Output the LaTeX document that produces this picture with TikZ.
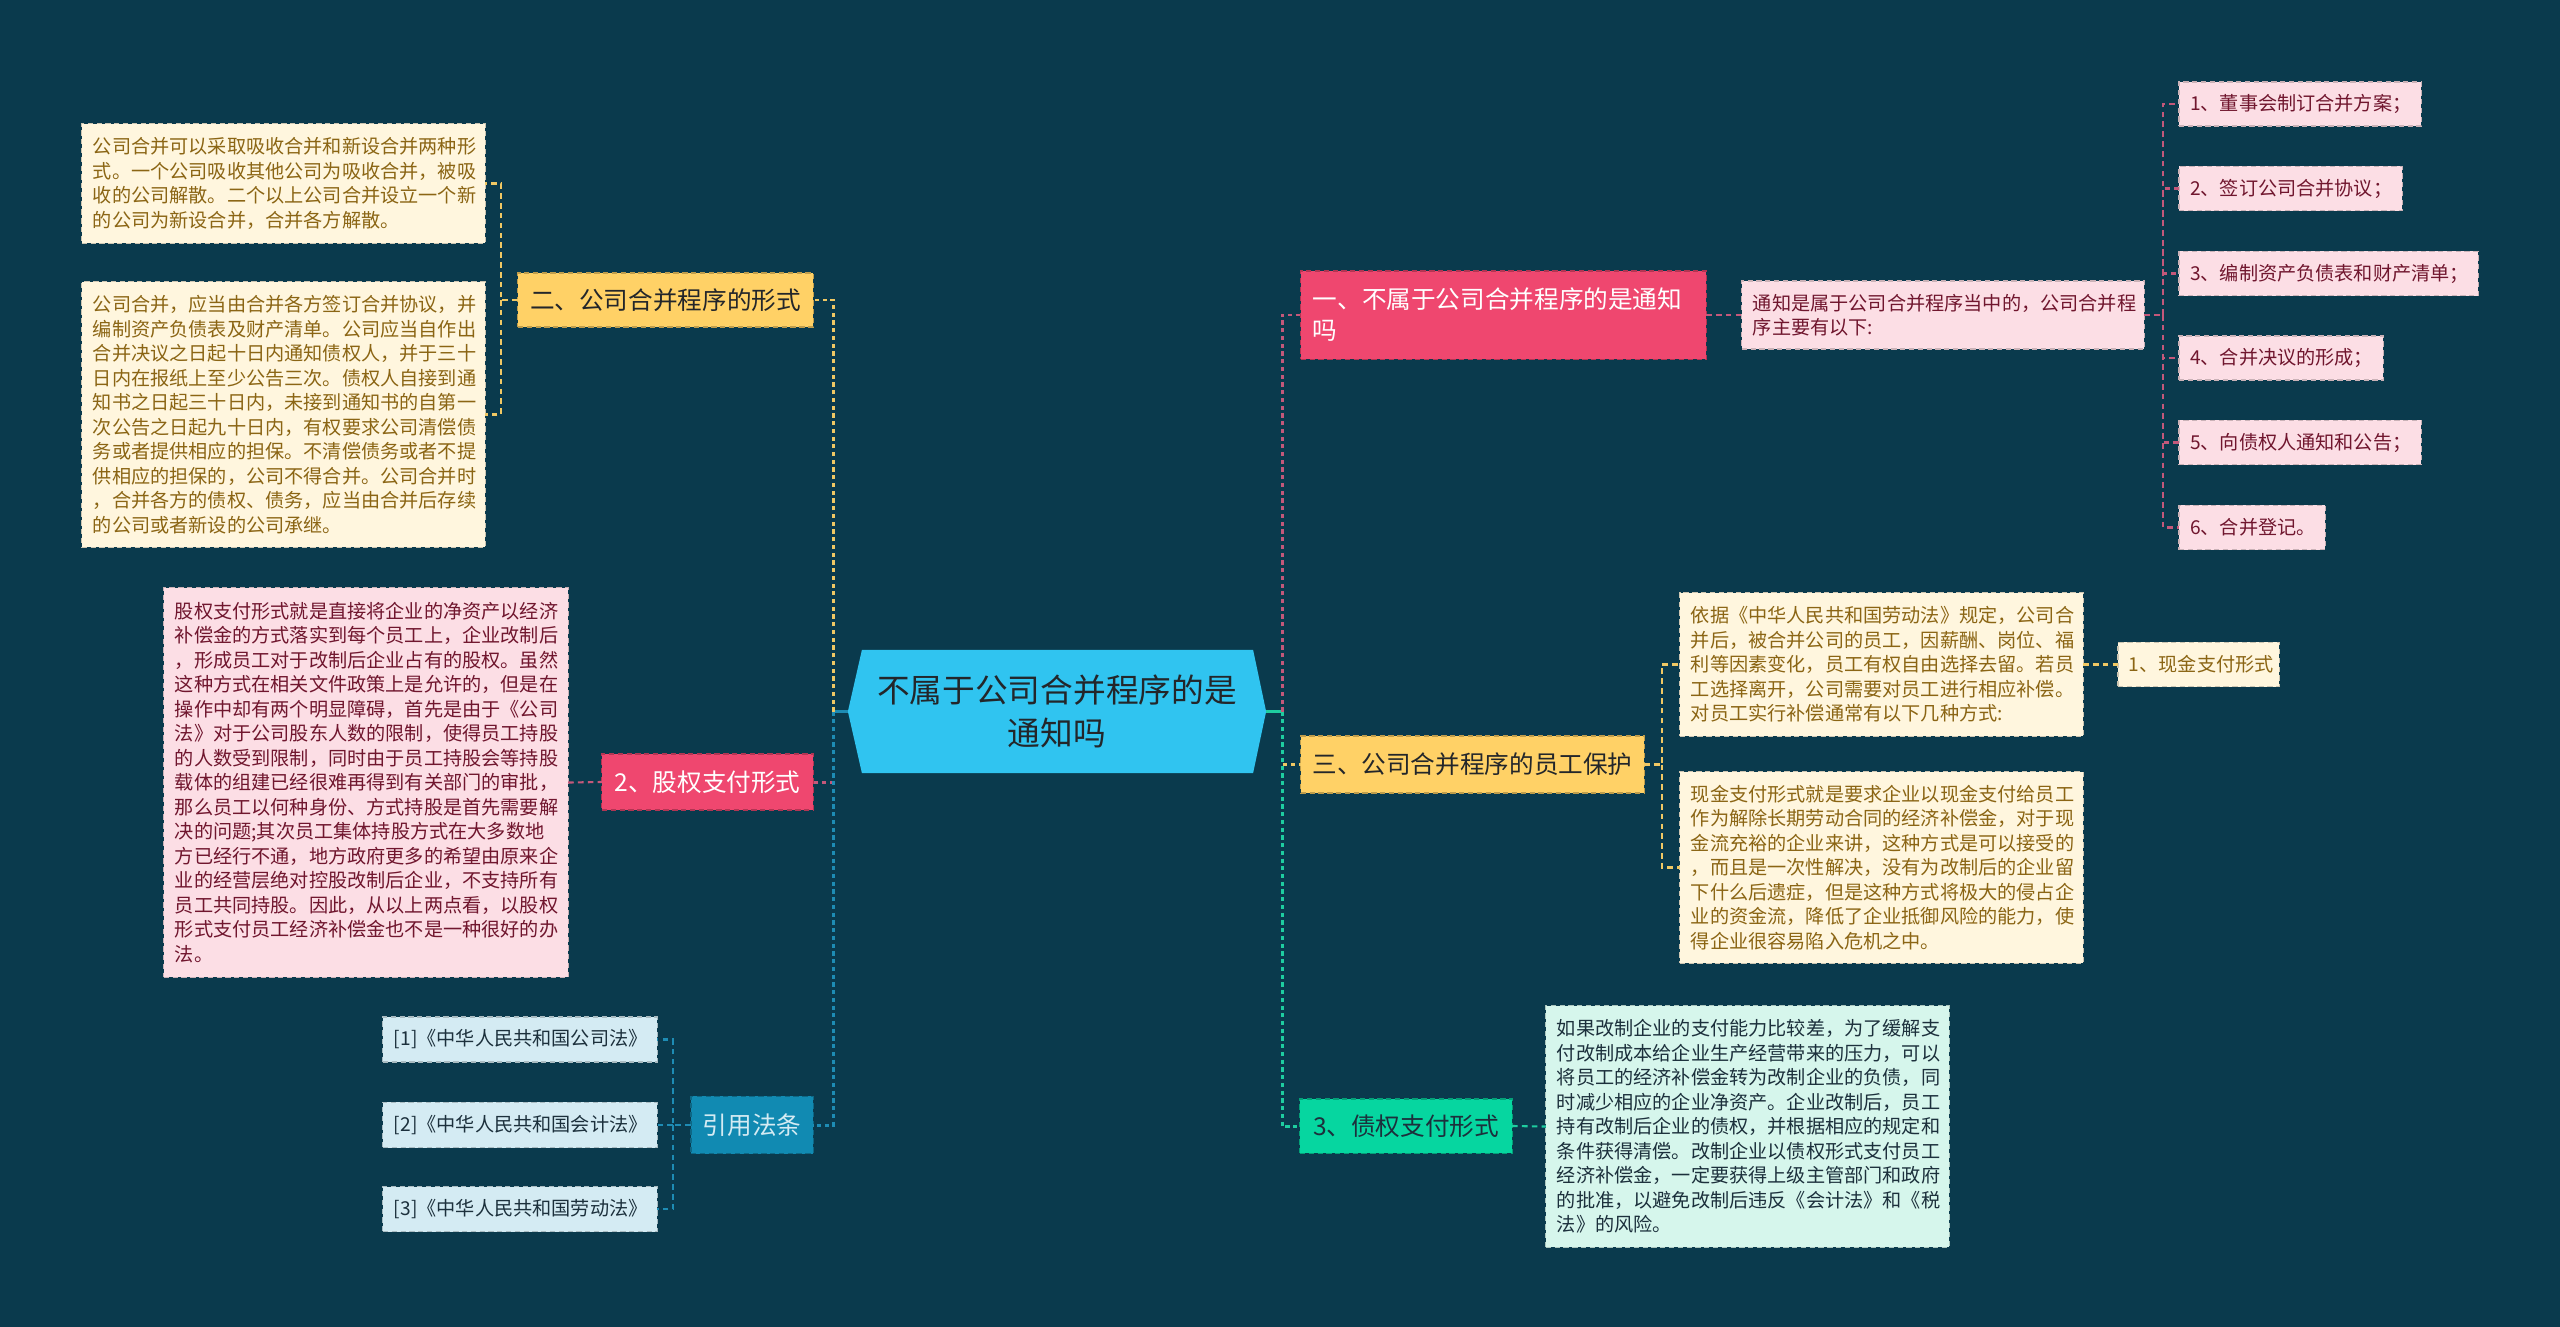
\documentclass[tikz,border=0pt]{standalone}
\usepackage{fontspec}
\setmainfont{Noto Sans CJK SC}

\definecolor{bgcol}{RGB}{10,58,77}
\definecolor{rootcol}{RGB}{48,196,240}
\definecolor{redcol}{RGB}{239,71,111}
\definecolor{yelcol}{RGB}{255,209,102}
\definecolor{bluecol}{RGB}{17,138,178}
\definecolor{greencol}{RGB}{6,214,160}
\definecolor{creamcol}{RGB}{255,246,222}
\definecolor{pinkcol}{RGB}{252,222,229}
\definecolor{icecol}{RGB}{212,235,243}
\definecolor{mintcol}{RGB}{214,246,236}
\definecolor{goldtext}{RGB}{139,101,20}
\definecolor{maroontext}{RGB}{112,22,46}
\definecolor{slatetext}{RGB}{28,48,60}
\definecolor{darktext}{RGB}{35,38,42}
\definecolor{pinkline}{RGB}{196,88,122}
\definecolor{yelline}{RGB}{240,200,100}
\definecolor{blueline}{RGB}{30,140,180}
\definecolor{greenline}{RGB}{30,205,160}

\tikzset{
  topic/.style={draw=#1!75!black,fill=#1,dash pattern=on 1.5pt off 1pt,line width=0.3pt,
    outer sep=0pt,inner sep=0pt,font=\fontsize{7}{8.8}\selectfont},
  leaf/.style={draw=#1!80!black,fill=#1,dash pattern=on 1.5pt off 1pt,line width=0.3pt,
    outer sep=0pt,inner xsep=0.11cm,inner ysep=0pt,align=left,
    font=\fontsize{5.45}{6.97}\selectfont},
  link/.style={line width=0.6pt,dash pattern=on 1.6pt off 1.2pt},
  trunk/.style={line width=0.85pt,dash pattern=on 1.2pt off 1pt},
}

\begin{document}
\begin{tikzpicture}[x=0.01cm,y=-0.01cm]
  \fill[bgcol] (0,0) rectangle (2560,1327);

  \node[outer sep=0pt,inner sep=0pt,minimum width=4.18cm,minimum height=1.23cm,
    align=center,text=darktext,font=\fontsize{9.3}{12.2}\selectfont,
    path picture={\fill[rootcol] (path picture bounding box.west)
      -- ([xshift=0.14cm]path picture bounding box.north west)
      -- ([xshift=-0.13cm]path picture bounding box.north east)
      -- (path picture bounding box.east)
      -- ([xshift=-0.13cm]path picture bounding box.south east)
      -- ([xshift=0.14cm]path picture bounding box.south west) -- cycle;}]
    (root) at (1057,711.5) {不属于公司合并程序的是\\通知吗};

  \node[topic=yelcol,text=darktext,minimum width=2.95cm,minimum height=0.54cm] (n2) at (665.5,300) {二、公司合并程序的形式};
  \node[topic=redcol,text=white,minimum width=2.11cm,minimum height=0.56cm] (n22) at (707.5,782) {2、股权支付形式};
  \node[topic=bluecol,text=icecol,minimum width=1.22cm,minimum height=0.57cm] (nref) at (752,1125) {引用法条};

  \node[leaf=creamcol,text=goldtext,minimum width=4.03cm,text width=3.81cm,minimum height=1.19cm] (l1) at (283.5,183.5)
    {公司合并可以采取吸收合并和新设合并两种形\\式。一个公司吸收其他公司为吸收合并，被吸\\收的公司解散。二个以上公司合并设立一个新\\的公司为新设合并，合并各方解散。};
  \node[leaf=creamcol,text=goldtext,minimum width=4.03cm,text width=3.81cm,minimum height=2.65cm] (l2) at (283.5,414.5)
    {公司合并，应当由合并各方签订合并协议，并\\编制资产负债表及财产清单。公司应当自作出\\合并决议之日起十日内通知债权人，并于三十\\日内在报纸上至少公告三次。债权人自接到通\\知书之日起三十日内，未接到通知书的自第一\\次公告之日起九十日内，有权要求公司清偿债\\务或者提供相应的担保。不清偿债务或者不提\\供相应的担保的，公司不得合并。公司合并时\\，合并各方的债权、债务，应当由合并后存续\\的公司或者新设的公司承继。};
  \node[leaf=pinkcol,text=maroontext,minimum width=4.04cm,text width=3.82cm,minimum height=3.89cm] (l3) at (366,782.5)
    {股权支付形式就是直接将企业的净资产以经济\\补偿金的方式落实到每个员工上，企业改制后\\，形成员工对于改制后企业占有的股权。虽然\\这种方式在相关文件政策上是允许的，但是在\\操作中却有两个明显障碍，首先是由于《公司\\法》对于公司股东人数的限制，使得员工持股\\的人数受到限制，同时由于员工持股会等持股\\载体的组建已经很难再得到有关部门的审批，\\那么员工以何种身份、方式持股是首先需要解\\决的问题;其次员工集体持股方式在大多数地\\方已经行不通，地方政府更多的希望由原来企\\业的经营层绝对控股改制后企业，不支持所有\\员工共同持股。因此，从以上两点看，以股权\\形式支付员工经济补偿金也不是一种很好的办\\法。};
  \node[leaf=icecol,text=slatetext,minimum width=2.74cm,text width=2.52cm,minimum height=0.45cm] (ref1) at (520,1039.5) {[1]《中华人民共和国公司法》};
  \node[leaf=icecol,text=slatetext,minimum width=2.74cm,text width=2.52cm,minimum height=0.45cm] (ref2) at (520,1125) {[2]《中华人民共和国会计法》};
  \node[leaf=icecol,text=slatetext,minimum width=2.74cm,text width=2.52cm,minimum height=0.45cm] (ref3) at (520,1209) {[3]《中华人民共和国劳动法》};

  \node[topic=redcol,text=white,align=left,inner xsep=0.12cm,minimum width=4.05cm,text width=3.81cm,minimum height=0.88cm] (n1) at (1503.5,315) {一、不属于公司合并程序的是通知\\吗};
  \node[topic=yelcol,text=darktext,minimum width=3.43cm,minimum height=0.57cm] (n3) at (1472.5,764.5) {三、公司合并程序的员工保护};
  \node[topic=greencol,text=slatetext,minimum width=2.12cm,minimum height=0.54cm] (n33) at (1406,1126) {3、债权支付形式};

  \node[leaf=pinkcol,text=maroontext,minimum width=4.02cm,text width=3.80cm,minimum height=0.68cm] (p1) at (1943,315)
    {通知是属于公司合并程序当中的，公司合并程\\序主要有以下:};
  \node[leaf=pinkcol,text=maroontext,anchor=west,minimum width=2.42cm,text width=2.20cm,minimum height=0.44cm] (s1) at (2179,104) {1、董事会制订合并方案；};
  \node[leaf=pinkcol,text=maroontext,anchor=west,minimum width=2.23cm,text width=2.01cm,minimum height=0.44cm] (s2) at (2179,188.5) {2、签订公司合并协议；};
  \node[leaf=pinkcol,text=maroontext,anchor=west,minimum width=2.99cm,text width=2.77cm,minimum height=0.44cm] (s3) at (2179,273.5) {3、编制资产负债表和财产清单；};
  \node[leaf=pinkcol,text=maroontext,anchor=west,minimum width=2.04cm,text width=1.82cm,minimum height=0.44cm] (s4) at (2179,358) {4、合并决议的形成；};
  \node[leaf=pinkcol,text=maroontext,anchor=west,minimum width=2.42cm,text width=2.20cm,minimum height=0.44cm] (s5) at (2179,442.5) {5、向债权人通知和公告；};
  \node[leaf=pinkcol,text=maroontext,anchor=west,minimum width=1.46cm,text width=1.24cm,minimum height=0.44cm] (s6) at (2179,527.5) {6、合并登记。};

  \node[leaf=creamcol,text=goldtext,minimum width=4.03cm,text width=3.81cm,minimum height=1.43cm] (q1) at (1881.5,664.5)
    {依据《中华人民共和国劳动法》规定，公司合\\并后，被合并公司的员工，因薪酬、岗位、福\\利等因素变化，员工有权自由选择去留。若员\\工选择离开，公司需要对员工进行相应补偿。\\对员工实行补偿通常有以下几种方式:};
  \node[leaf=creamcol,text=goldtext,minimum width=1.61cm,text width=1.39cm,minimum height=0.44cm] (q2) at (2198.5,664.5) {1、现金支付形式};
  \node[leaf=creamcol,text=goldtext,minimum width=4.03cm,text width=3.81cm,minimum height=1.91cm] (q3) at (1881.5,867.5)
    {现金支付形式就是要求企业以现金支付给员工\\作为解除长期劳动合同的经济补偿金，对于现\\金流充裕的企业来讲，这种方式是可以接受的\\，而且是一次性解决，没有为改制后的企业留\\下什么后遗症，但是这种方式将极大的侵占企\\业的资金流，降低了企业抵御风险的能力，使\\得企业很容易陷入危机之中。};
  \node[leaf=mintcol,text=slatetext,minimum width=4.03cm,text width=3.81cm,minimum height=2.41cm] (m1) at (1747.5,1126.5)
    {如果改制企业的支付能力比较差，为了缓解支\\付改制成本给企业生产经营带来的压力，可以\\将员工的经济补偿金转为改制企业的负债，同\\时减少相应的企业净资产。企业改制后，员工\\持有改制后企业的债权，并根据相应的规定和\\条件获得清偿。改制企业以债权形式支付员工\\经济补偿金，一定要获得上级主管部门和政府\\的批准，以避免改制后违反《会计法》和《税\\法》的风险。};

  \coordinate (lj) at (833,711.5);
  \coordinate (rj) at (1282,711.5);
  \coordinate (b2) at (501,300);
  \coordinate (bref) at (673,1125);
  \coordinate (bp) at (2163,315);
  \coordinate (bq) at (1662,764.5);

  \draw[blueline,line width=0.6pt] (root.west) -- (lj);
  \draw[trunk,yelline] (lj) |- (n2.east);
  \draw[trunk,pinkline] (lj) |- (n22.east);
  \draw[trunk,blueline] (lj) |- (nref.east);
  \draw[link,yelline] (n2.west) -- (b2) |- (l1.east) (b2) |- (l2.east);
  \draw[link,pinkline] (l3.east) -- (n22.west);
  \draw[link,blueline] (nref.west) -- (bref) |- (ref1.east) (bref) |- (ref2.east) (bref) |- (ref3.east);

  \draw[greenline,line width=0.6pt] (root.east) -- (rj);
  \draw[trunk,pinkline] (rj) |- (n1.west);
  \draw[trunk,yelline] (rj) |- (n3.west);
  \draw[trunk,greenline] (rj) |- (n33.west);
  \draw[link,pinkline] (n1.east) -- (p1.west);
  \draw[link,pinkline] (p1.east) -- (bp) |- (s1.west) (bp) |- (s2.west) (bp) |- (s3.west)
    (bp) |- (s4.west) (bp) |- (s5.west) (bp) |- (s6.west);
  \draw[link,yelline] (n3.east) -- (bq) |- (q1.west) (bq) |- (q3.west);
  \draw[link,yelline] (q1.east) -- (q2.west);
  \draw[link,greenline] (n33.east) -- (m1.west);
\end{tikzpicture}
\end{document}
